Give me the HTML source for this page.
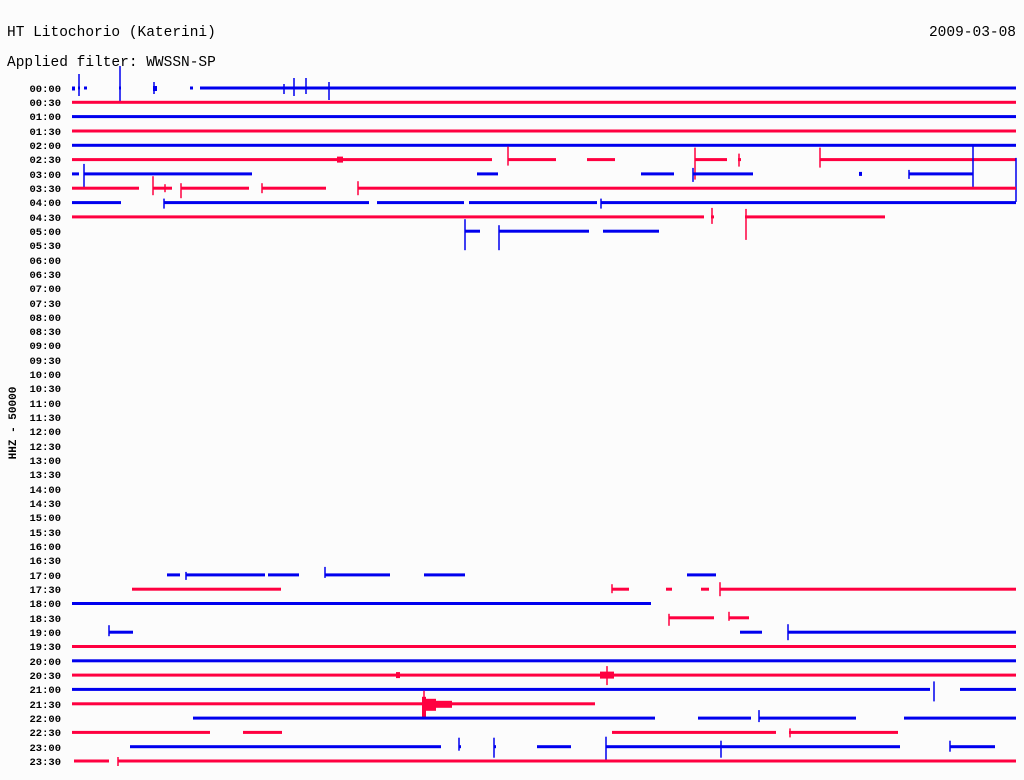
<!DOCTYPE html>
<html><head><meta charset="utf-8"><style>
html,body{margin:0;padding:0;background:#fcfcfc;}
svg{display:block;}
text{font-family:"Liberation Mono",monospace;fill:#000;}
.l{font-size:10.5px;font-weight:bold;text-anchor:end;}
.b rect,.b line{fill:#0000ee;stroke:#0000ee;}
.r rect,.r line{fill:#ff0040;stroke:#ff0040;}
rect{stroke:none!important;}
line{stroke-width:1.5;}
</style></head><body>
<svg width="1024" height="780" viewBox="0 0 1024 780" xmlns="http://www.w3.org/2000/svg">
<rect width="1024" height="780" fill="#fcfcfc"/>
<text x="7" y="36" font-size="14.5">HT Litochorio (Katerini)</text>
<text x="1016" y="36" font-size="14.5" text-anchor="end">2009-03-08</text>
<text x="7" y="66" font-size="14.5">Applied filter: WWSSN-SP</text>
<text transform="translate(16,423) rotate(-90)" font-size="11" text-anchor="middle" font-weight="bold">HHZ - 50000</text>
<g>
<text class="l" x="61" y="92">00:00</text><text class="l" x="61" y="106">00:30</text><text class="l" x="61" y="120">01:00</text><text class="l" x="61" y="135">01:30</text><text class="l" x="61" y="149">02:00</text><text class="l" x="61" y="163">02:30</text><text class="l" x="61" y="178">03:00</text><text class="l" x="61" y="192">03:30</text><text class="l" x="61" y="206">04:00</text><text class="l" x="61" y="221">04:30</text><text class="l" x="61" y="235">05:00</text><text class="l" x="61" y="249">05:30</text><text class="l" x="61" y="264">06:00</text><text class="l" x="61" y="278">06:30</text><text class="l" x="61" y="292">07:00</text><text class="l" x="61" y="307">07:30</text><text class="l" x="61" y="321">08:00</text><text class="l" x="61" y="335">08:30</text><text class="l" x="61" y="349">09:00</text><text class="l" x="61" y="364">09:30</text><text class="l" x="61" y="378">10:00</text><text class="l" x="61" y="392">10:30</text><text class="l" x="61" y="407">11:00</text><text class="l" x="61" y="421">11:30</text><text class="l" x="61" y="435">12:00</text><text class="l" x="61" y="450">12:30</text><text class="l" x="61" y="464">13:00</text><text class="l" x="61" y="478">13:30</text><text class="l" x="61" y="493">14:00</text><text class="l" x="61" y="507">14:30</text><text class="l" x="61" y="521">15:00</text><text class="l" x="61" y="536">15:30</text><text class="l" x="61" y="550">16:00</text><text class="l" x="61" y="564">16:30</text><text class="l" x="61" y="579">17:00</text><text class="l" x="61" y="593">17:30</text><text class="l" x="61" y="607">18:00</text><text class="l" x="61" y="622">18:30</text><text class="l" x="61" y="636">19:00</text><text class="l" x="61" y="650">19:30</text><text class="l" x="61" y="665">20:00</text><text class="l" x="61" y="679">20:30</text><text class="l" x="61" y="693">21:00</text><text class="l" x="61" y="708">21:30</text><text class="l" x="61" y="722">22:00</text><text class="l" x="61" y="736">22:30</text><text class="l" x="61" y="751">23:00</text><text class="l" x="61" y="765">23:30</text>
</g>
<!-- 00:00 -->
<g class="b" transform="translate(0,88)"><rect x="72" y="-1.5" width="3" height="4"/><rect x="78" y="-1.5" width="2" height="3"/><rect x="84" y="-1.5" width="3" height="3"/><rect x="119" y="-1.5" width="2" height="3"/><rect x="153" y="-2" width="4" height="5"/><rect x="190" y="-1.5" width="3" height="3"/><rect x="200" y="-1.5" width="816" height="3"/><line x1="79" y1="-14" x2="79" y2="8"/><line x1="120" y1="-22" x2="120" y2="13"/><line x1="154" y1="-6" x2="154" y2="6"/><line x1="284" y1="-4" x2="284" y2="6"/><line x1="294" y1="-10" x2="294" y2="8"/><line x1="306" y1="-10" x2="306" y2="6"/><line x1="329" y1="-6" x2="329" y2="12"/></g>
<g class="r" transform="translate(0,102.3)"><rect x="72" y="-1.5" width="944" height="3"/></g>
<g class="b" transform="translate(0,116.6)"><rect x="72" y="-1.5" width="944" height="3"/></g>
<g class="r" transform="translate(0,131)"><rect x="72" y="-1.5" width="944" height="3"/></g>
<g class="b" transform="translate(0,145.3)"><rect x="72" y="-1.5" width="944" height="3"/></g>
<g class="r" transform="translate(0,159.6)"><rect x="72" y="-1.5" width="420" height="3"/><rect x="337" y="-3" width="6" height="6"/><rect x="508" y="-1.5" width="48" height="3"/><rect x="587" y="-1.5" width="28" height="3"/><rect x="695" y="-1.5" width="32" height="3"/><rect x="738" y="-1.5" width="3" height="3"/><rect x="820" y="-1.5" width="196" height="3"/><line x1="508" y1="-13" x2="508" y2="6"/><line x1="695" y1="-12" x2="695" y2="20"/><line x1="739" y1="-6" x2="739" y2="7"/><line x1="820" y1="-12" x2="820" y2="8"/></g>
<g class="b" transform="translate(0,173.9)"><rect x="72" y="-1.5" width="7" height="3"/><rect x="84" y="-1.5" width="168" height="3"/><rect x="477" y="-1.5" width="21" height="3"/><rect x="641" y="-1.5" width="33" height="3"/><rect x="693" y="-1.5" width="60" height="3"/><rect x="859" y="-2" width="3" height="4"/><rect x="909" y="-1.5" width="64" height="3"/><line x1="84" y1="-10" x2="84" y2="14"/><line x1="693" y1="-6" x2="693" y2="8"/><line x1="909" y1="-4" x2="909" y2="5"/><line x1="973" y1="-29" x2="973" y2="14"/><line x1="1016" y1="-16" x2="1016" y2="28"/></g>
<g class="r" transform="translate(0,188.2)"><rect x="72" y="-1.5" width="67" height="3"/><rect x="153" y="-1.5" width="19" height="3"/><rect x="181" y="-1.5" width="68" height="3"/><rect x="262" y="-1.5" width="64" height="3"/><rect x="358" y="-1.5" width="658" height="3"/><line x1="153" y1="-12" x2="153" y2="7"/><line x1="165" y1="-4" x2="165" y2="4"/><line x1="181" y1="-5" x2="181" y2="10"/><line x1="262" y1="-5" x2="262" y2="5"/><line x1="358" y1="-7" x2="358" y2="7"/></g>
<g class="b" transform="translate(0,202.6)"><rect x="72" y="-1.5" width="49" height="3"/><rect x="164" y="-1.5" width="205" height="3"/><rect x="377" y="-1.5" width="87" height="3"/><rect x="469" y="-1.5" width="128" height="3"/><rect x="601" y="-1.5" width="415" height="3"/><line x1="164" y1="-4" x2="164" y2="6"/><line x1="601" y1="-4" x2="601" y2="6"/></g>
<g class="r" transform="translate(0,216.9)"><rect x="72" y="-1.5" width="632" height="3"/><rect x="711" y="-1.5" width="3" height="3"/><rect x="745" y="-1.5" width="140" height="3"/><line x1="712" y1="-9" x2="712" y2="7"/><line x1="746" y1="-8" x2="746" y2="23"/></g>
<g class="b" transform="translate(0,231.2)"><rect x="465" y="-1.5" width="15" height="3"/><rect x="499" y="-1.5" width="90" height="3"/><rect x="603" y="-1.5" width="56" height="3"/><line x1="465" y1="-12" x2="465" y2="19"/><line x1="499" y1="-6" x2="499" y2="19"/></g>
<!-- afternoon -->
<g class="b" transform="translate(0,574.9)"><rect x="167" y="-1.5" width="13" height="3"/><rect x="186" y="-1.5" width="79" height="3"/><rect x="268" y="-1.5" width="31" height="3"/><rect x="325" y="-1.5" width="65" height="3"/><rect x="424" y="-1.5" width="41" height="3"/><rect x="687" y="-1.5" width="29" height="3"/><line x1="186" y1="-3" x2="186" y2="5"/><line x1="325" y1="-8" x2="325" y2="3"/></g>
<g class="r" transform="translate(0,589.2)"><rect x="132" y="-1.5" width="149" height="3"/><rect x="612" y="-1.5" width="17" height="3"/><rect x="666" y="-1.5" width="6" height="3"/><rect x="701" y="-1.5" width="8" height="3"/><rect x="720" y="-1.5" width="296" height="3"/><line x1="612" y1="-5" x2="612" y2="4"/><line x1="720" y1="-7" x2="720" y2="7"/></g>
<g class="b" transform="translate(0,603.5)"><rect x="72" y="-1.5" width="579" height="3"/></g>
<g class="r" transform="translate(0,617.8)"><rect x="669" y="-1.5" width="45" height="3"/><rect x="729" y="-1.5" width="20" height="3"/><line x1="669" y1="-4" x2="669" y2="8"/><line x1="729" y1="-6" x2="729" y2="3"/></g>
<g class="b" transform="translate(0,632.2)"><rect x="109" y="-1.5" width="24" height="3"/><rect x="740" y="-1.5" width="22" height="3"/><rect x="788" y="-1.5" width="228" height="3"/><line x1="109" y1="-7" x2="109" y2="4"/><line x1="788" y1="-8" x2="788" y2="8"/></g>
<g class="r" transform="translate(0,646.5)"><rect x="72" y="-1.5" width="944" height="3"/></g>
<g class="b" transform="translate(0,660.8)"><rect x="72" y="-1.5" width="944" height="3"/></g>
<g class="r" transform="translate(0,675.1)"><rect x="72" y="-1.5" width="944" height="3"/><rect x="396" y="-3" width="4" height="6"/><rect x="600" y="-3.5" width="14" height="7"/><line x1="607" y1="-9" x2="607" y2="10"/></g>
<g class="b" transform="translate(0,689.4)"><rect x="72" y="-1.5" width="858" height="3"/><rect x="960" y="-1.5" width="56" height="3"/><line x1="934" y1="-8" x2="934" y2="12"/></g>
<g class="r" transform="translate(0,703.8)"><rect x="72" y="-1.5" width="523" height="3"/><rect x="422" y="-7" width="4" height="21"/><rect x="426" y="-5" width="10" height="12"/><rect x="436" y="-3" width="16" height="7"/><line x1="424" y1="-13" x2="424" y2="14"/></g>
<g class="b" transform="translate(0,718.1)"><rect x="193" y="-1.5" width="462" height="3"/><rect x="698" y="-1.5" width="53" height="3"/><rect x="759" y="-1.5" width="97" height="3"/><rect x="904" y="-1.5" width="112" height="3"/><line x1="759" y1="-8" x2="759" y2="4"/></g>
<g class="r" transform="translate(0,732.4)"><rect x="72" y="-1.5" width="138" height="3"/><rect x="243" y="-1.5" width="39" height="3"/><rect x="612" y="-1.5" width="164" height="3"/><rect x="789" y="-1.5" width="109" height="3"/><line x1="790" y1="-4" x2="790" y2="5"/></g>
<g class="b" transform="translate(0,746.7)"><rect x="130" y="-1.5" width="311" height="3"/><rect x="459" y="-1.5" width="2" height="3"/><rect x="494" y="-1.5" width="2" height="3"/><rect x="537" y="-1.5" width="34" height="3"/><rect x="606" y="-1.5" width="294" height="3"/><rect x="950" y="-1.5" width="45" height="3"/><line x1="459" y1="-9" x2="459" y2="4"/><line x1="494" y1="-9" x2="494" y2="11"/><line x1="606" y1="-10" x2="606" y2="15"/><line x1="721" y1="-6" x2="721" y2="11"/><line x1="950" y1="-6" x2="950" y2="5"/></g>
<g class="r" transform="translate(0,761)"><rect x="74" y="-1.5" width="35" height="3"/><rect x="118" y="-1.5" width="898" height="3"/><line x1="118" y1="-4" x2="118" y2="5"/></g>
</svg>
</body></html>
